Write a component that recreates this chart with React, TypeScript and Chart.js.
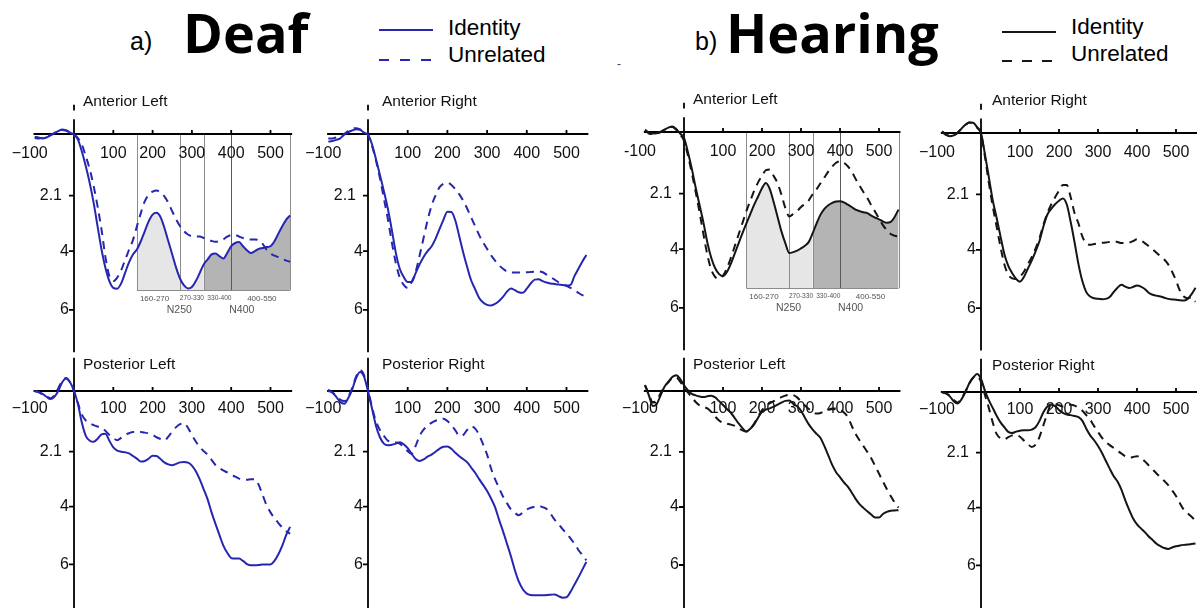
import React, { useEffect, useRef } from 'react';
import Chart from 'chart.js/auto';

// time axis (ms), sampled every 10 ms
const times = [-100, -90, -80, -70, -60, -50, -40, -30, -20, -10, 0, 10, 20, 30, 40, 50, 60, 70, 80, 90, 100, 110, 120, 130, 140, 150, 160, 170, 180, 190, 200, 210, 220, 230, 240, 250, 260, 270, 280, 290, 300, 310, 320, 330, 340, 350, 360, 370, 380, 390, 400, 410, 420, 430, 440, 450, 460, 470, 480, 490, 500, 510, 520, 530, 540, 550];

// Deaf - anterior left
const dalId = [0.1, 0.12, 0.15, 0.12, 0.05, -0.03, -0.1, -0.15, -0.12, -0.05,
  0.02, 0.19, 0.6, 1.1, 1.67, 2.35, 3.15, 3.94, 4.57, 5.02,
  5.25, 5.28, 5.1, 4.74, 4.38, 4.11, 3.94, 3.66, 3.32, 2.98,
  2.75, 2.69, 2.83, 3.2, 3.66, 4.11, 4.57, 4.94, 5.17, 5.27,
  5.22, 5.02, 4.74, 4.45, 4.28, 4.11, 4.08, 4.17, 4.25, 4.06,
  3.83, 3.72, 3.69, 3.83, 3.97, 4.06, 4.0, 3.92, 3.89, 3.86,
  3.83, 3.66, 3.4, 3.15, 2.92, 2.78];
const dalUn = [0.14, 0.15, 0.13, 0.08, 0.03, -0.03, -0.1, -0.14, -0.12, -0.06,
  0.02, 0.14, 0.36, 0.76, 1.2, 1.78, 2.47, 3.26, 4.2, 4.85,
  5.02, 4.9, 4.65, 4.3, 3.95, 3.62, 3.15, 2.7, 2.3, 2.08,
  1.97, 1.93, 1.99, 2.13, 2.35, 2.64, 2.92, 3.15, 3.32, 3.43,
  3.49, 3.5, 3.5, 3.55, 3.6, 3.65, 3.68, 3.66, 3.6, 3.5,
  3.45, 3.45, 3.5, 3.55, 3.58, 3.6, 3.6, 3.62, 3.75, 3.95,
  4.08, 4.15, 4.2, 4.27, 4.32, 4.36];

// Deaf - anterior right
const darId = [0.26, 0.24, 0.2, 0.15, 0.02, -0.06, -0.12, -0.16, -0.14, -0.05,
  0.03, 0.35, 0.85, 1.4, 1.95, 2.55, 3.27, 4.05, 4.6, 4.88,
  5.05, 5.05, 4.75, 4.45, 4.2, 4.0, 3.84, 3.58, 3.25, 2.93,
  2.65, 2.66, 2.95, 3.5, 4.05, 4.55, 5.0, 5.3, 5.6, 5.75,
  5.83, 5.85, 5.8, 5.7, 5.56, 5.38, 5.27, 5.33, 5.4, 5.42,
  5.28, 5.1, 4.97, 4.96, 5.02, 5.07, 5.1, 5.12, 5.14, 5.15,
  5.17, 5.15, 4.85, 4.6, 4.35, 4.13];
const darUn = [0.15, 0.15, 0.12, 0.08, 0.0, -0.1, -0.18, -0.2, -0.16, -0.08,
  0.02, 0.4, 0.9, 1.5, 2.2, 2.9, 3.7, 4.4, 4.9, 5.15,
  5.26, 5.05, 4.7, 4.15, 3.55, 2.95, 2.45, 2.1, 1.82, 1.7,
  1.66, 1.74, 1.88, 2.06, 2.28, 2.55, 2.85, 3.15, 3.45, 3.7,
  3.92, 4.14, 4.32, 4.48, 4.6, 4.69, 4.72, 4.73, 4.73, 4.72,
  4.72, 4.71, 4.7, 4.69, 4.72, 4.8, 4.88, 4.97, 5.06, 5.12,
  5.18, 5.25, 5.33, 5.42, 5.5, 5.55];

// Hearing - anterior left
const halId = [-0.08, 0.02, 0.05, 0.04, 0.0, -0.08, -0.15, -0.19, -0.1, 0.05,
  0.2, 0.68, 1.25, 1.9, 2.5, 3.1, 3.78, 4.3, 4.65, 4.85,
  4.92, 4.78, 4.5, 4.15, 3.8, 3.45, 3.12, 2.8, 2.48, 2.2,
  1.92, 1.74, 1.95, 2.4, 2.9, 3.4, 3.8, 4.13, 4.1, 4.05,
  3.97, 3.88, 3.75, 3.45, 3.12, 2.82, 2.62, 2.5, 2.42, 2.37,
  2.36, 2.4, 2.48, 2.56, 2.65, 2.7, 2.74, 2.77, 2.85, 2.92,
  2.98, 3.05, 3.1, 3.07, 2.9, 2.65];
const halUn = [-0.05, 0.05, 0.07, 0.04, 0.0, -0.08, -0.15, -0.17, -0.08, 0.08,
  0.3, 0.8, 1.4, 2.05, 2.75, 3.5, 4.2, 4.7, 4.95, 5.0,
  4.9, 4.65, 4.3, 3.9, 3.5, 3.1, 2.7, 2.35, 2.0, 1.72,
  1.5, 1.3, 1.28, 1.5, 1.75, 2.15, 2.6, 2.88, 2.8, 2.7,
  2.56, 2.45, 2.33, 2.12, 1.95, 1.75, 1.55, 1.35, 1.18, 1.05,
  1.0, 1.05, 1.17, 1.35, 1.6, 1.83, 2.05, 2.25, 2.5, 2.72,
  2.95, 3.18, 3.35, 3.48, 3.54, 3.56];

// Hearing - anterior right
const harId = [-0.06, 0.05, 0.11, 0.08, 0.0, -0.15, -0.28, -0.36, -0.35, -0.2,
  0.0, 0.72, 1.5, 2.3, 2.9, 3.54, 4.15, 4.55, 4.8, 5.0,
  5.09, 4.93, 4.65, 4.37, 4.05, 3.7, 3.2, 2.8, 2.6, 2.44,
  2.32, 2.24, 2.45, 3.05, 3.75, 4.5, 5.08, 5.45, 5.6, 5.66,
  5.68, 5.69, 5.68, 5.62, 5.45, 5.3, 5.2, 5.26, 5.31, 5.27,
  5.22, 5.26, 5.34, 5.47, 5.54, 5.57, 5.6, 5.64, 5.68, 5.7,
  5.71, 5.73, 5.74, 5.68, 5.52, 5.3];
const harUn = [-0.04, 0.06, 0.1, 0.06, -0.02, -0.15, -0.28, -0.36, -0.33, -0.18,
  0.02, 0.8, 1.7, 2.5, 3.2, 3.9, 4.5, 4.85, 4.98, 5.0,
  4.92, 4.75, 4.5, 4.25, 3.95, 3.6, 3.15, 2.75, 2.45, 2.2,
  1.98, 1.78, 1.78, 2.2, 2.75, 3.1, 3.55, 3.78, 3.83, 3.8,
  3.78, 3.76, 3.75, 3.73, 3.71, 3.73, 3.77, 3.77, 3.75, 3.7,
  3.64, 3.68, 3.77, 3.88, 3.98, 4.1, 4.22, 4.33, 4.5, 4.75,
  5.05, 5.4, 5.6, 5.66, 5.63, 5.78];

// Deaf - posterior left
const dplId = [0.0, 0.04, 0.1, 0.2, 0.28, 0.2, 0.0, -0.3, -0.43, -0.3,
  0.0, 0.45, 1.1, 1.55, 1.72, 1.76, 1.65, 1.5, 1.48, 1.72,
  1.95, 2.06, 2.1, 2.12, 2.16, 2.25, 2.34, 2.44, 2.42, 2.34,
  2.24, 2.25, 2.35, 2.47, 2.54, 2.57, 2.52, 2.47, 2.46, 2.48,
  2.58, 2.78, 3.06, 3.4, 3.75, 4.2, 4.6, 4.98, 5.35, 5.6,
  5.78, 5.8, 5.8, 5.88, 5.99, 6.03, 6.03, 6.02, 6.0, 6.0,
  6.0, 5.88, 5.65, 5.35, 4.98, 4.7];
const dplUn = [0.0, 0.04, 0.12, 0.18, 0.25, 0.15, -0.1, -0.35, -0.45, -0.3,
  0.0, 0.42, 0.82, 1.02, 1.12, 1.18, 1.23, 1.27, 1.38, 1.52,
  1.63, 1.7, 1.62, 1.52, 1.46, 1.42, 1.42, 1.42, 1.44, 1.47,
  1.52, 1.6, 1.66, 1.71, 1.58, 1.4, 1.25, 1.15, 1.11, 1.27,
  1.52, 1.75, 1.94, 2.08, 2.2, 2.38, 2.56, 2.67, 2.75, 2.82,
  2.9, 2.96, 3.03, 3.06, 3.07, 3.05, 3.05, 3.25, 3.6, 3.95,
  4.2, 4.4, 4.57, 4.72, 4.85, 4.94];

// Deaf - posterior right
const dprId = [0.0, 0.05, 0.2, 0.38, 0.44, 0.25, -0.05, -0.45, -0.66, -0.5,
  0.0, 0.6, 1.2, 1.6, 1.82, 1.88, 1.86, 1.82, 1.77, 1.84,
  1.98, 2.18, 2.35, 2.42, 2.37, 2.27, 2.2, 2.1, 2.0, 1.93,
  1.92, 2.0, 2.14, 2.26, 2.36, 2.47, 2.65, 2.83, 3.05, 3.25,
  3.46, 3.72, 4.02, 4.45, 4.85, 5.28, 5.72, 6.2, 6.6, 6.86,
  7.01, 7.06, 7.07, 7.07, 7.07, 7.06, 7.05, 7.04, 7.1, 7.15,
  7.14, 6.95, 6.7, 6.45, 6.18, 5.92];
const dprUn = [-0.05, 0.05, 0.15, 0.3, 0.35, 0.2, -0.1, -0.5, -0.72, -0.55,
  -0.05, 0.55, 1.05, 1.35, 1.55, 1.72, 1.75, 1.78, 1.82, 1.95,
  2.08, 2.17, 1.9, 1.55, 1.34, 1.2, 1.1, 1.03, 0.99, 0.96,
  1.04, 1.18, 1.36, 1.55, 1.52, 1.34, 1.22, 1.3, 1.52, 1.85,
  2.2, 2.68, 3.05, 3.35, 3.65, 3.88, 4.1, 4.22, 4.3, 4.2,
  4.1, 4.04, 4.0, 3.98, 4.02, 4.08, 4.25, 4.45, 4.6, 4.78,
  4.92, 5.1, 5.28, 5.5, 5.68, 5.86];

// Hearing - posterior left
const hplId = [-0.2, 0.15, 0.52, 0.45, 0.15, -0.15, -0.32, -0.48, -0.54, -0.42,
  -0.2, -0.03, 0.1, 0.15, 0.19, 0.21, 0.18, 0.16, 0.22, 0.35,
  0.48, 0.62, 0.75, 0.93, 1.12, 1.28, 1.4, 1.3, 1.15, 0.92,
  0.72, 0.64, 0.6, 0.54, 0.47, 0.4, 0.34, 0.33, 0.44, 0.53,
  0.68, 0.92, 1.15, 1.33, 1.48, 1.62, 1.9, 2.22, 2.55, 2.8,
  2.97, 3.15, 3.3, 3.5, 3.72, 3.9, 4.03, 4.15, 4.26, 4.36,
  4.36, 4.24, 4.17, 4.13, 4.12, 4.11];
const hplUn = [-0.2, 0.1, 0.4, 0.32, 0.08, -0.15, -0.3, -0.45, -0.47, -0.32,
  -0.12, 0.05, 0.22, 0.38, 0.5, 0.55, 0.6, 0.72, 0.88, 1.02,
  1.1, 1.13, 1.16, 1.2, 1.28, 1.36, 1.4, 1.3, 1.12, 0.88,
  0.66, 0.52, 0.42, 0.35, 0.28, 0.21, 0.16, 0.12, 0.14, 0.22,
  0.36, 0.5, 0.62, 0.72, 0.78, 0.76, 0.7, 0.65, 0.6, 0.6,
  0.64, 0.74, 0.9, 1.2, 1.48, 1.7, 1.9, 2.1, 2.32, 2.58,
  2.85, 3.12, 3.38, 3.62, 3.84, 4.02];

// Hearing - posterior right
const hprId = [0.0, 0.05, 0.15, 0.32, 0.4, 0.25, 0.0, -0.3, -0.5, -0.62,
  -0.45, -0.05, 0.28, 0.55, 0.82, 1.05, 1.22, 1.38, 1.42, 1.37,
  1.34, 1.32, 1.32, 1.3, 1.22, 1.0, 0.7, 0.5, 0.44, 0.49,
  0.62, 0.72, 0.78, 0.8, 0.83, 0.87, 1.0, 1.27, 1.5, 1.67,
  1.87, 2.1, 2.38, 2.65, 2.91, 3.1, 3.38, 3.75, 4.08, 4.38,
  4.58, 4.72, 4.85, 5.0, 5.12, 5.25, 5.33, 5.4, 5.43, 5.38,
  5.34, 5.31, 5.29, 5.28, 5.26, 5.24];
const hprUn = [0.0, 0.05, 0.12, 0.28, 0.36, 0.22, -0.02, -0.3, -0.5, -0.55,
  -0.35, 0.1, 0.55, 1.05, 1.45, 1.6, 1.64, 1.56, 1.5, 1.48,
  1.55, 1.68, 1.8, 1.9, 1.82, 1.55, 1.15, 0.75, 0.42, 0.42,
  0.46, 0.5, 0.47, 0.44, 0.47, 0.55, 0.65, 0.8, 0.96, 1.18,
  1.38, 1.58, 1.73, 1.84, 1.93, 2.03, 2.13, 2.22, 2.27, 2.25,
  2.22, 2.28, 2.4, 2.54, 2.68, 2.82, 2.95, 3.08, 3.22, 3.4,
  3.6, 3.85, 4.07, 4.2, 4.32, 4.45];

// axis ticks
const yTicks = [2.1, 4, 6];
const xTicks = [-100, 100, 200, 300, 400, 500];

// analysis windows (ms)
const windowEdges = [160, 270, 330, 400, 550];
const windowNames = ['160-270', '270-330', '330-400', '400-550'];
const componentNames = ['N250', 'N400'];

const BLUE = '#2626b0';
const BLACK = '#151515';
const FONT = '"Liberation Sans", Arial, Helvetica, sans-serif';
const X_MIN = -103;
const X_MAX = 555;
const WINDOW_BOTTOM = 5.33;

type Box = { left: number; top: number; width: number; height: number };
type PanelCfg = {
  label: string;
  id: number[];
  un: number[];
  color: string;
  box: Box;
  x0: number; kx: number; y0: number; ky: number;
  vMin: number; vMax: number;
  axisTop: number; axisBottom: number;
  mark: boolean;
  labelDx: number; labelV: number;
  tickDy: number;
  minus: string;
  shaded: boolean;
};

const TOP = { top: 85, height: 272, vMin: -0.5, vMax: 7.45, axisTop: -0.5, axisBottom: 7.45, mark: true, labelV: -1.1, tickDy: 19.5 };
const BOT = { top: 357, height: 262, vMin: -0.75, vMax: 7.6, axisTop: -1.15, axisBottom: 7.6, mark: false, labelV: -0.9, tickDy: 17.8 };

const panels: PanelCfg[] = [
  { ...TOP, label: 'Anterior Left', id: dalId, un: dalUn, color: BLUE, box: { left: 0, top: TOP.top, width: 298, height: TOP.height }, x0: 74, kx: 0.393, y0: 134, ky: 29.3, labelDx: 9, minus: '\u2212', shaded: true },
  { ...TOP, label: 'Anterior Right', id: darId, un: darUn, color: BLUE, box: { left: 300, top: TOP.top, width: 296, height: TOP.height }, x0: 368, kx: 0.397, y0: 134, ky: 29.3, labelDx: 14, minus: '\u2212', shaded: false },
  { ...TOP, label: 'Anterior Left', id: halId, un: halUn, color: BLACK, box: { left: 600, top: TOP.top, width: 304, height: TOP.height }, x0: 684, kx: 0.39, y0: 132, ky: 29.3, labelDx: 9, minus: '-', shaded: true },
  { ...TOP, label: 'Anterior Right', id: harId, un: harUn, color: BLACK, box: { left: 900, top: TOP.top, width: 300, height: TOP.height }, x0: 981, kx: 0.39, y0: 133, ky: 29.2, labelDx: 11, minus: '\u2212', shaded: false },
  { ...BOT, label: 'Posterior Left', id: dplId, un: dplUn, color: BLUE, box: { left: 0, top: BOT.top, width: 298, height: BOT.height }, x0: 74, kx: 0.393, y0: 391, ky: 28.9, labelDx: 9, minus: '\u2212', shaded: false },
  { ...BOT, label: 'Posterior Right', id: dprId, un: dprUn, color: BLUE, box: { left: 300, top: BOT.top, width: 296, height: BOT.height }, x0: 368, kx: 0.397, y0: 391, ky: 28.9, labelDx: 14, minus: '\u2212', shaded: false },
  { ...BOT, label: 'Posterior Left', id: hplId, un: hplUn, color: BLACK, box: { left: 600, top: BOT.top, width: 304, height: BOT.height }, x0: 684, kx: 0.39, y0: 391, ky: 29, labelDx: 9, minus: '\u2212', shaded: false },
  { ...BOT, label: 'Posterior Right', id: hprId, un: hprUn, color: BLACK, box: { left: 900, top: BOT.top, width: 300, height: BOT.height }, x0: 981, kx: 0.39, y0: 392, ky: 28.9, labelDx: 11, minus: '\u2212', shaded: false },
];

const toPoints = (vals: number[]) => times.map((t, i) => ({ x: t, y: vals[i] }));
const slicePoints = (vals: number[], from: number, to: number) =>
  times.map((t, i) => ({ x: t, y: vals[i] })).filter((p) => p.x >= from && p.x <= to);

// draws the ERP style axes (crossing at 0), the analysis windows and the panel title
const erpAxes = {
  id: 'erpAxes',
  beforeDatasetsDraw(chart: any, _args: any, opts: any) {
    const { ctx, scales: { x, y }, chartArea } = chart;
    const px0 = x.getPixelForValue(0);
    const py0 = y.getPixelForValue(0);
    ctx.save();

    if (opts.shaded) {
      const yb = y.getPixelForValue(WINDOW_BOTTOM);
      ctx.lineWidth = 1;
      windowEdges.forEach((t) => {
        ctx.strokeStyle = t === 400 ? '#5a5a5a' : '#8c8c8c';
        const px = Math.round(x.getPixelForValue(t)) + 0.5;
        ctx.beginPath();
        ctx.moveTo(px, py0);
        ctx.lineTo(px, yb);
        ctx.stroke();
      });
      ctx.strokeStyle = '#8c8c8c';
      ctx.beginPath();
      ctx.moveTo(x.getPixelForValue(windowEdges[0]), Math.round(yb) + 0.5);
      ctx.lineTo(x.getPixelForValue(windowEdges[windowEdges.length - 1]), Math.round(yb) + 0.5);
      ctx.stroke();

      ctx.fillStyle = '#555';
      ctx.textAlign = 'center';
      ctx.textBaseline = 'middle';
      const centers = [205, 300, 370, 478];
      const sizes = [8, 6.6, 6.6, 8];
      windowNames.forEach((n, i) => {
        ctx.font = `${sizes[i]}px ${FONT}`;
        ctx.fillText(n, x.getPixelForValue(centers[i]), y.getPixelForValue(5.62));
      });
      ctx.font = `10.5px ${FONT}`;
      const compCenters = [268, 427];
      componentNames.forEach((n, i) => ctx.fillText(n, x.getPixelForValue(compCenters[i]), y.getPixelForValue(6.0)));
    }

    // axis lines
    ctx.strokeStyle = '#000';
    ctx.lineWidth = 1.8;
    ctx.beginPath();
    ctx.moveTo(chartArea.left, py0);
    ctx.lineTo(chartArea.right, py0);
    ctx.moveTo(px0, y.getPixelForValue(opts.axisTop));
    ctx.lineTo(px0, y.getPixelForValue(opts.axisBottom));
    if (opts.mark) {
      ctx.moveTo(px0, y.getPixelForValue(-1.0));
      ctx.lineTo(px0, y.getPixelForValue(-0.8));
    }
    // tick marks
    xTicks.filter((t) => t > 0).forEach((t) => {
      const px = x.getPixelForValue(t);
      ctx.moveTo(px, py0);
      ctx.lineTo(px, py0 - 4);
    });
    yTicks.forEach((v) => {
      const py = y.getPixelForValue(v);
      ctx.moveTo(px0, py);
      ctx.lineTo(px0 - 5, py);
    });
    ctx.stroke();

    // tick labels
    ctx.fillStyle = '#111';
    ctx.font = `16px ${FONT}`;
    ctx.textAlign = 'center';
    ctx.textBaseline = 'middle';
    xTicks.forEach((t) => {
      const txt = t < 0 ? opts.minus + String(-t) : String(t);
      ctx.fillText(txt, x.getPixelForValue(t) + (t < 0 ? -5 : 0), py0 + opts.tickDy);
    });
    ctx.textAlign = 'right';
    yTicks.forEach((v) => {
      ctx.fillText(String(v), px0 - (v === 2.1 ? 12 : 5), y.getPixelForValue(v));
    });

    // panel title
    ctx.textAlign = 'left';
    ctx.font = `15.5px ${FONT}`;
    ctx.fillText(opts.label, px0 + opts.labelDx, y.getPixelForValue(opts.labelV));
    ctx.restore();
  },
};

function ErpPanel({ cfg }: { cfg: PanelCfg }) {
  const canvasRef = useRef<HTMLCanvasElement | null>(null);

  useEffect(() => {
    const canvas = canvasRef.current;
    if (!canvas) return;
    const { box } = cfg;
    const areaLeft = cfg.x0 + cfg.kx * X_MIN;
    const areaRight = cfg.x0 + cfg.kx * X_MAX;
    const areaTop = cfg.y0 + cfg.ky * cfg.vMin;
    const areaBottom = cfg.y0 + cfg.ky * cfg.vMax;

    const line = { pointRadius: 0, cubicInterpolationMode: 'monotone', fill: false };
    const datasets: any[] = [];
    if (cfg.shaded) {
      datasets.push({ ...line, data: slicePoints(cfg.id, 160, 330), borderWidth: 0, borderColor: 'rgba(0,0,0,0)', backgroundColor: '#e6e6e6', fill: { value: WINDOW_BOTTOM }, order: 3 });
      datasets.push({ ...line, data: slicePoints(cfg.id, 330, 550), borderWidth: 0, borderColor: 'rgba(0,0,0,0)', backgroundColor: '#b4b4b4', fill: { value: WINDOW_BOTTOM }, order: 3 });
    }
    datasets.push({ ...line, label: 'Unrelated', data: toPoints(cfg.un), borderColor: cfg.color, borderWidth: 2, borderDash: [8, 6], order: 1 });
    datasets.push({ ...line, label: 'Identity', data: toPoints(cfg.id), borderColor: cfg.color, borderWidth: 2, order: 0 });

    const chart = new Chart(canvas, {
      type: 'line',
      data: { datasets },
      options: {
        animation: false,
        responsive: false,
        maintainAspectRatio: false,
        layout: {
          padding: {
            left: areaLeft - box.left,
            right: box.left + box.width - areaRight,
            top: areaTop - box.top,
            bottom: box.top + box.height - areaBottom,
          },
        },
        scales: {
          x: { type: 'linear', min: X_MIN, max: X_MAX, display: false },
          y: { type: 'linear', reverse: true, min: cfg.vMin, max: cfg.vMax, display: false },
        },
        plugins: {
          legend: { display: false },
          tooltip: { enabled: false },
          filler: { drawTime: 'beforeDatasetsDraw' },
          erpAxes: {
            shaded: cfg.shaded, axisTop: cfg.axisTop, axisBottom: cfg.axisBottom, mark: cfg.mark,
            label: cfg.label, labelDx: cfg.labelDx, labelV: cfg.labelV, tickDy: cfg.tickDy, minus: cfg.minus,
          },
        } as any,
      },
      plugins: [erpAxes],
    } as any);

    return () => chart.destroy();
  }, [cfg]);

  return (
    <canvas
      ref={canvasRef}
      width={cfg.box.width}
      height={cfg.box.height}
      style={{ position: 'absolute', left: cfg.box.left, top: cfg.box.top, width: cfg.box.width, height: cfg.box.height }}
    />
  );
}

const text = (left: number, top: number, size: number, extra: React.CSSProperties = {}): React.CSSProperties => ({
  position: 'absolute', left, top, fontSize: size, lineHeight: 1, fontFamily: FONT, color: '#000', whiteSpace: 'nowrap', ...extra,
});

export default function App() {
  const bold: React.CSSProperties = { fontFamily: '"Open Sans", "Noto Sans", sans-serif', fontWeight: 700 };
  return (
    <div style={{ position: 'absolute', left: 0, top: 0, width: 1197, height: 608, overflow: 'hidden', background: '#fff' }}>
      {/* group titles */}
      <div style={text(130, 29, 25)}>a)</div>
      <div style={text(183, 5, 54, bold)}>Deaf</div>
      <div style={text(695, 29, 25)}>b)</div>
      <div style={text(726, 5, 54, bold)}>Hearing</div>
      <div style={text(617, 58, 12, { color: '#444' })}>-</div>

      {/* legends */}
      <svg width={1197} height={80} style={{ position: 'absolute', left: 0, top: 0 }}>
        <line x1={379} y1={30} x2={433} y2={30} stroke={BLUE} strokeWidth={2.2} />
        <line x1={379} y1={60} x2={433} y2={60} stroke={BLUE} strokeWidth={2.2} strokeDasharray="10 11" />
        <line x1={1002} y1={32} x2={1056} y2={32} stroke={BLACK} strokeWidth={2.2} />
        <line x1={1002} y1={61} x2={1056} y2={61} stroke={BLACK} strokeWidth={2.2} strokeDasharray="10 10" />
      </svg>
      <div style={text(448, 17, 22.5)}>Identity</div>
      <div style={text(448, 44, 22.5)}>Unrelated</div>
      <div style={text(1071, 16, 22.5)}>Identity</div>
      <div style={text(1071, 43, 22.5)}>Unrelated</div>

      {panels.map((p, i) => (
        <ErpPanel key={i} cfg={p} />
      ))}
    </div>
  );
}
